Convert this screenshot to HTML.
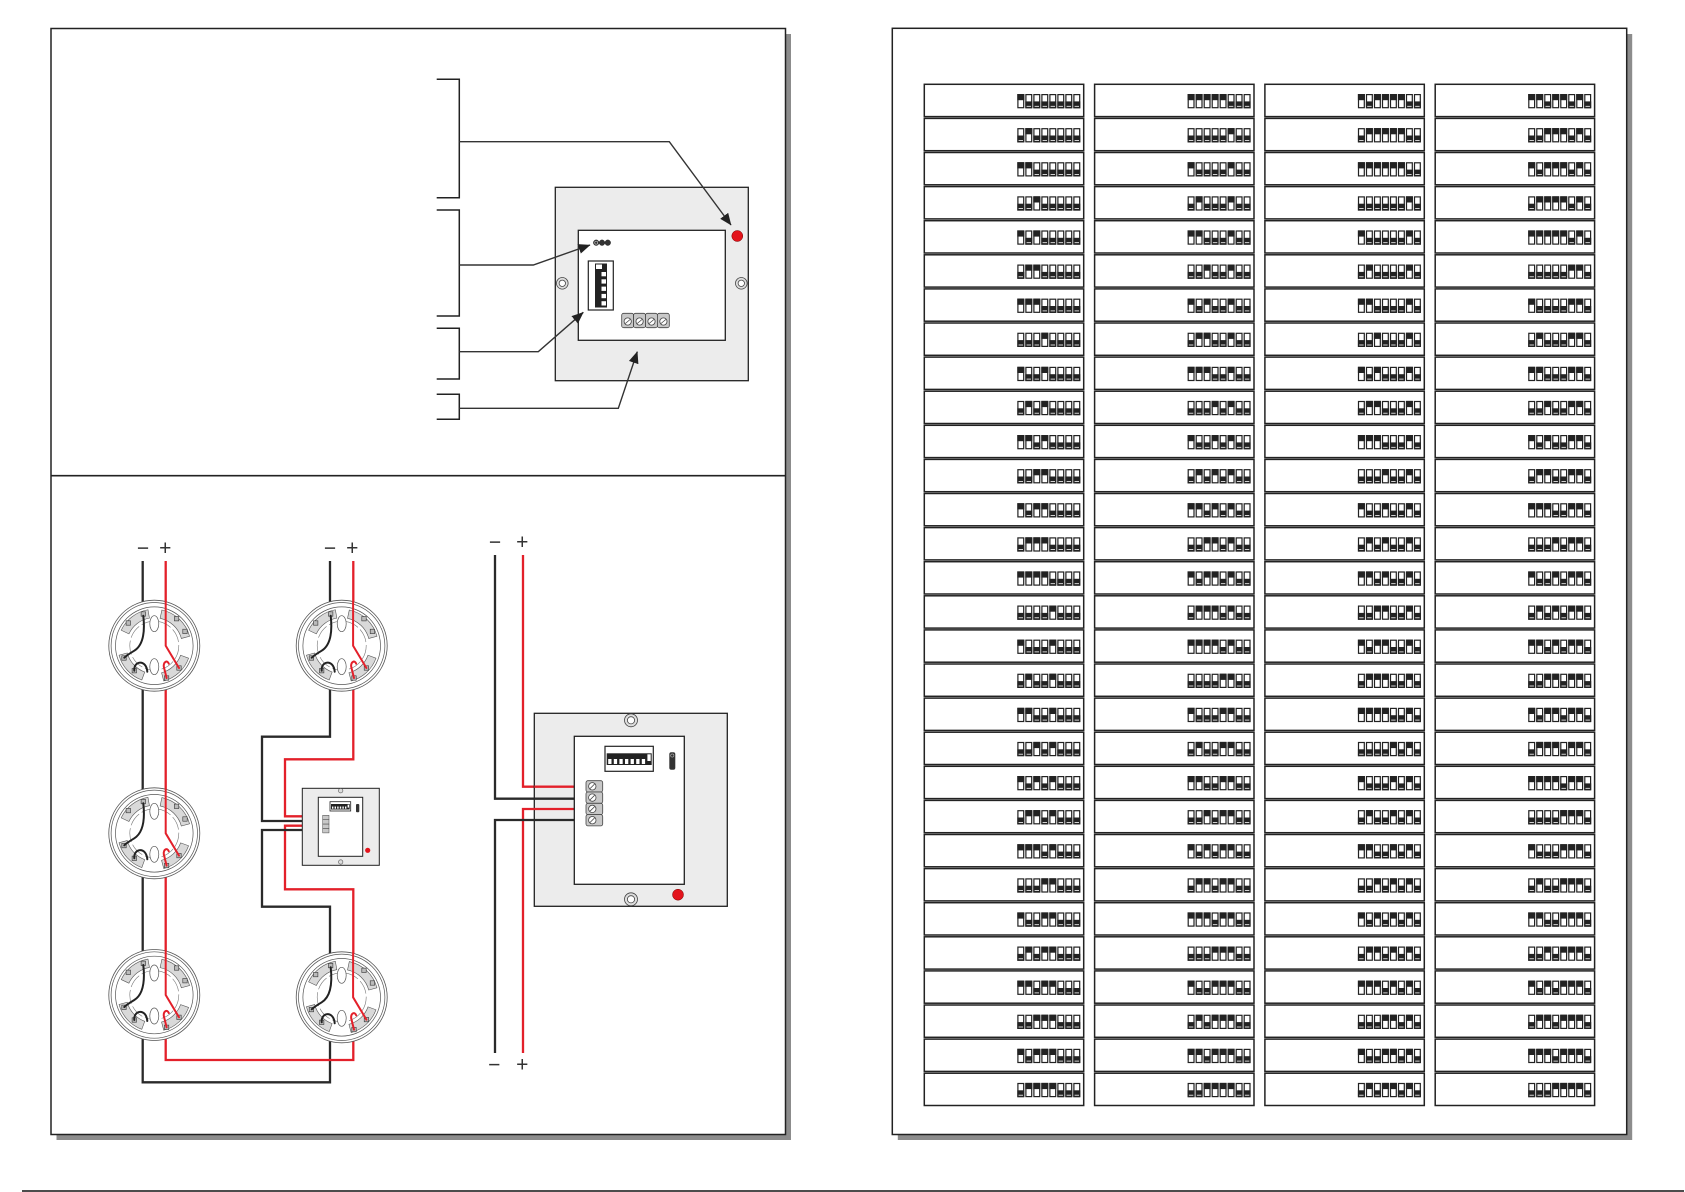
<!DOCTYPE html>
<html>
<head>
<meta charset="utf-8">
<style>
html,body{margin:0;padding:0;background:#fff}
svg{display:block}
</style>
</head>
<body>
<svg width="1685" height="1192" viewBox="0 0 1685 1192" xmlns="http://www.w3.org/2000/svg">
<defs>
  <marker id="ar" viewBox="0 0 12 10" refX="11.5" refY="5" markerWidth="12" markerHeight="10" markerUnits="userSpaceOnUse" orient="auto">
    <path d="M0,0 L12,5 L0,10 z" fill="#222"/>
  </marker>
  <g id="s1"><rect x="0.6" y="0.6" width="5.8" height="13.1" fill="#fff" stroke="#222" stroke-width="1.2"/><rect x="0" y="0" width="7" height="6.2" fill="#222"/></g>
  <g id="s0"><rect x="0.6" y="0.6" width="5.8" height="13.1" fill="#fff" stroke="#222" stroke-width="1.2"/><rect x="0" y="7.4" width="7" height="6.9" fill="#222"/><rect x="1.3" y="11.9" width="4.4" height="0.8" fill="#fff"/></g>
  <g id="n0"><use href="#s0" y="9.7"/><use href="#s0" x="8" y="9.7"/><use href="#s0" x="16" y="9.7"/><use href="#s0" x="24" y="9.7"/></g>
  <g id="n1"><use href="#s1" y="9.7"/><use href="#s0" x="8" y="9.7"/><use href="#s0" x="16" y="9.7"/><use href="#s0" x="24" y="9.7"/></g>
  <g id="n2"><use href="#s0" y="9.7"/><use href="#s1" x="8" y="9.7"/><use href="#s0" x="16" y="9.7"/><use href="#s0" x="24" y="9.7"/></g>
  <g id="n3"><use href="#s1" y="9.7"/><use href="#s1" x="8" y="9.7"/><use href="#s0" x="16" y="9.7"/><use href="#s0" x="24" y="9.7"/></g>
  <g id="n4"><use href="#s0" y="9.7"/><use href="#s0" x="8" y="9.7"/><use href="#s1" x="16" y="9.7"/><use href="#s0" x="24" y="9.7"/></g>
  <g id="n5"><use href="#s1" y="9.7"/><use href="#s0" x="8" y="9.7"/><use href="#s1" x="16" y="9.7"/><use href="#s0" x="24" y="9.7"/></g>
  <g id="n6"><use href="#s0" y="9.7"/><use href="#s1" x="8" y="9.7"/><use href="#s1" x="16" y="9.7"/><use href="#s0" x="24" y="9.7"/></g>
  <g id="n7"><use href="#s1" y="9.7"/><use href="#s1" x="8" y="9.7"/><use href="#s1" x="16" y="9.7"/><use href="#s0" x="24" y="9.7"/></g>
  <g id="n8"><use href="#s0" y="9.7"/><use href="#s0" x="8" y="9.7"/><use href="#s0" x="16" y="9.7"/><use href="#s1" x="24" y="9.7"/></g>
  <g id="n9"><use href="#s1" y="9.7"/><use href="#s0" x="8" y="9.7"/><use href="#s0" x="16" y="9.7"/><use href="#s1" x="24" y="9.7"/></g>
  <g id="n10"><use href="#s0" y="9.7"/><use href="#s1" x="8" y="9.7"/><use href="#s0" x="16" y="9.7"/><use href="#s1" x="24" y="9.7"/></g>
  <g id="n11"><use href="#s1" y="9.7"/><use href="#s1" x="8" y="9.7"/><use href="#s0" x="16" y="9.7"/><use href="#s1" x="24" y="9.7"/></g>
  <g id="n12"><use href="#s0" y="9.7"/><use href="#s0" x="8" y="9.7"/><use href="#s1" x="16" y="9.7"/><use href="#s1" x="24" y="9.7"/></g>
  <g id="n13"><use href="#s1" y="9.7"/><use href="#s0" x="8" y="9.7"/><use href="#s1" x="16" y="9.7"/><use href="#s1" x="24" y="9.7"/></g>
  <g id="n14"><use href="#s0" y="9.7"/><use href="#s1" x="8" y="9.7"/><use href="#s1" x="16" y="9.7"/><use href="#s1" x="24" y="9.7"/></g>
  <g id="n15"><use href="#s1" y="9.7"/><use href="#s1" x="8" y="9.7"/><use href="#s1" x="16" y="9.7"/><use href="#s1" x="24" y="9.7"/></g>

  <g id="col" fill="#fff" stroke="#222" stroke-width="1.5">
    <rect x="0" y="84.3" width="159.4" height="32.3"/>
    <rect x="0" y="118.4" width="159.4" height="32.3"/>
    <rect x="0" y="152.5" width="159.4" height="32.3"/>
    <rect x="0" y="186.6" width="159.4" height="32.3"/>
    <rect x="0" y="220.7" width="159.4" height="32.3"/>
    <rect x="0" y="254.8" width="159.4" height="32.3"/>
    <rect x="0" y="288.9" width="159.4" height="32.3"/>
    <rect x="0" y="323.0" width="159.4" height="32.3"/>
    <rect x="0" y="357.1" width="159.4" height="32.3"/>
    <rect x="0" y="391.2" width="159.4" height="32.3"/>
    <rect x="0" y="425.3" width="159.4" height="32.3"/>
    <rect x="0" y="459.4" width="159.4" height="32.3"/>
    <rect x="0" y="493.5" width="159.4" height="32.3"/>
    <rect x="0" y="527.6" width="159.4" height="32.3"/>
    <rect x="0" y="561.7" width="159.4" height="32.3"/>
    <rect x="0" y="595.8" width="159.4" height="32.3"/>
    <rect x="0" y="629.9" width="159.4" height="32.3"/>
    <rect x="0" y="664.0" width="159.4" height="32.3"/>
    <rect x="0" y="698.1" width="159.4" height="32.3"/>
    <rect x="0" y="732.2" width="159.4" height="32.3"/>
    <rect x="0" y="766.3" width="159.4" height="32.3"/>
    <rect x="0" y="800.4" width="159.4" height="32.3"/>
    <rect x="0" y="834.5" width="159.4" height="32.3"/>
    <rect x="0" y="868.6" width="159.4" height="32.3"/>
    <rect x="0" y="902.7" width="159.4" height="32.3"/>
    <rect x="0" y="936.8" width="159.4" height="32.3"/>
    <rect x="0" y="970.9" width="159.4" height="32.3"/>
    <rect x="0" y="1005.0" width="159.4" height="32.3"/>
    <rect x="0" y="1039.1" width="159.4" height="32.3"/>
    <rect x="0" y="1073.2" width="159.4" height="32.3"/>
  </g>

  <g id="det">
    <circle r="45.5" fill="#fff" stroke="#555" stroke-width="0.8"/>
    <circle r="43.2" fill="none" stroke="#555" stroke-width="0.7"/>
    <circle r="38.8" fill="none" stroke="#555" stroke-width="0.7"/>
    <g fill="#d9d9d9" stroke="#555" stroke-width="0.6">
      <path d="M-33.08,-15.42 A36.5,36.5 0 0 1 -6.34,-35.95 L-4.86,-27.57 A28,28 0 0 0 -25.38,-11.83 Z"/>
      <path d="M7.59,-35.70 A36.5,36.5 0 0 1 35.26,-9.45 L27.05,-7.25 A28,28 0 0 0 5.82,-27.39 Z"/>
      <path d="M34.30,12.48 A36.5,36.5 0 0 1 9.45,35.26 L7.25,27.05 A28,28 0 0 0 26.31,9.58 Z"/>
      <path d="M-12.48,34.30 A36.5,36.5 0 0 1 -35.26,9.45 L-27.05,7.25 A28,28 0 0 0 -9.58,26.31 Z"/>
    </g>
    <circle r="24.5" fill="none" stroke="#777" stroke-width="0.6" stroke-dasharray="14 3"/>
    <ellipse cx="0" cy="-22" rx="4.5" ry="8" fill="#fff" stroke="#555" stroke-width="0.7"/>
    <ellipse cx="0" cy="21" rx="4.5" ry="8" fill="#fff" stroke="#555" stroke-width="0.7"/>
    <g fill="#bbb" stroke="#333" stroke-width="0.6">
      <rect x="-28.2" y="-24.9" width="4.4" height="4.4"/>
      <rect x="-13.2" y="-33.9" width="4.4" height="4.4"/>
      <rect x="20.1" y="-29.2" width="4.4" height="4.4"/>
      <rect x="28.5" y="-16.5" width="4.4" height="4.4"/>
      <rect x="-32.5" y="10.1" width="4.4" height="4.4"/>
      <rect x="-22.2" y="22.8" width="4.4" height="4.4"/>
      <rect x="10.1" y="30.1" width="4.4" height="4.4"/>
      <rect x="22.5" y="20.1" width="4.4" height="4.4"/>
    </g>
    <g fill="none" stroke-width="2" stroke-linecap="round">
      <path d="M-11,-30 C-9,-12 -12,0 -20,5 C-25,8 -28,10 -30,12" stroke="#222"/>
      <path d="M-20,25 C-21,15 -8,13 -7,26" stroke="#222"/>
      <path d="M11.4,-44 V0 L24.7,22.3" stroke="#e3202a"/>
      <path d="M12.3,32.3 L9.5,21 C9,16 13,14 14.5,18" stroke="#e3202a"/>
    </g>
  </g>
</defs>

<rect x="56.5" y="34" width="734.5" height="1106" fill="#8c8c8c"/>
<rect x="897.8" y="34" width="734.4" height="1106" fill="#8c8c8c"/>
<rect x="51" y="28.5" width="734.5" height="1106" fill="#fff" stroke="#222" stroke-width="1.5"/>
<rect x="892.3" y="28.3" width="734.4" height="1106.2" fill="#fff" stroke="#222" stroke-width="1.5"/>
<line x1="51" y1="475.7" x2="785.5" y2="475.7" stroke="#222" stroke-width="1.7"/>
<line x1="22" y1="1191" x2="1684" y2="1191" stroke="#111" stroke-width="1.5"/>

<g fill="none" stroke="#222" stroke-width="1.5">
  <path d="M436.7,79.3 H459.3 V197.7 H436.7"/>
  <path d="M436.7,210 H459.3 V316 H436.7"/>
  <path d="M436.7,328.3 H459.3 V379 H436.7"/>
  <path d="M436.7,394.3 H459.3 V419.3 H436.7"/>
</g>
<rect x="555.3" y="187.3" width="193" height="193.4" fill="#ececec" stroke="#222" stroke-width="1.3"/>
<rect x="578.3" y="230.3" width="147" height="110" fill="#fff" stroke="#222" stroke-width="1.3"/>
<circle cx="737.3" cy="236" r="5.5" fill="#e3141c" stroke="#700" stroke-width="0.5"/>
<g stroke="#444" stroke-width="0.8">
  <circle cx="562.3" cy="283.3" r="5.8" fill="#ddd"/><circle cx="562.3" cy="283.3" r="3.2" fill="#fff"/>
  <circle cx="741.3" cy="283.3" r="5.8" fill="#ddd"/><circle cx="741.3" cy="283.3" r="3.2" fill="#fff"/>
</g>
<g fill="#333" stroke="#222" stroke-width="0.5">
  <circle cx="596.2" cy="242.7" r="2.8"/>
  <circle cx="602" cy="242.7" r="2.8"/>
  <circle cx="607.8" cy="242.7" r="2.8"/>
</g>
<circle cx="596.2" cy="242.7" r="1.5" fill="none" stroke="#bbb" stroke-width="0.7"/>
<rect x="588.3" y="261" width="25" height="49" fill="#fff" stroke="#222" stroke-width="1.2"/>
<rect x="595" y="263.5" width="12" height="44" fill="#222"/>
<g fill="#fff">
  <rect x="596" y="264.5" width="6" height="4.5"/>
  <rect x="601.5" y="272" width="4.5" height="4.3"/>
  <rect x="601.5" y="279.3" width="4.5" height="4.3"/>
  <rect x="601.5" y="286.6" width="4.5" height="4.3"/>
  <rect x="601.5" y="293.9" width="4.5" height="4.3"/>
  <rect x="601.5" y="301.2" width="4.5" height="4.3"/>
</g>
<g stroke="#444" stroke-width="0.8">
  <rect x="621.7" y="313.3" width="11.9" height="14.4" rx="2" fill="#c8c8c8"/>
  <rect x="633.6" y="313.3" width="11.9" height="14.4" rx="2" fill="#c8c8c8"/>
  <rect x="645.5" y="313.3" width="11.9" height="14.4" rx="2" fill="#c8c8c8"/>
  <rect x="657.4" y="313.3" width="11.9" height="14.4" rx="2" fill="#c8c8c8"/>
  <circle cx="627.7" cy="321.5" r="3.6" fill="#fff"/>
  <circle cx="639.6" cy="321.5" r="3.6" fill="#fff"/>
  <circle cx="651.5" cy="321.5" r="3.6" fill="#fff"/>
  <circle cx="663.4" cy="321.5" r="3.6" fill="#fff"/>
  <path d="M625.3,323.5 L630.1,319.5 M637.2,323.5 L642,319.5 M649.1,323.5 L653.9,319.5 M661,323.5 L665.8,319.5" fill="none"/>
</g>
<g fill="none" stroke="#333" stroke-width="1.4" marker-end="url(#ar)">
  <path d="M459.3,141.7 H669.3 L731,225"/>
  <path d="M459.3,265 H533.3 L590,245"/>
  <path d="M459.3,351.7 H538.3 L583.3,312.3"/>
  <path d="M459.3,408.3 H618.3 L637.3,351.7"/>
</g>

<g fill="none" stroke-width="2.3" stroke-linejoin="miter">
  <path d="M142.7,561 V1082.3 H330 V997" stroke="#2a2a2a"/>
  <path d="M165.7,561 V1060 H353.3 V997" stroke="#e3202a"/>
  <path d="M330,561 V736.7 H262 V821 H317" stroke="#2a2a2a"/>
  <path d="M353.3,561 V759.3 H285 V816.3 H317" stroke="#e3202a"/>
  <path d="M317,825.7 H285 V889.3 H353.3 V997" stroke="#e3202a"/>
  <path d="M317,830 H262 V906.7 H330 V997" stroke="#2a2a2a"/>
</g>
<use href="#det" x="154.3" y="645.7"/>
<use href="#det" x="341.7" y="645.7"/>
<use href="#det" x="154.3" y="833.3"/>
<use href="#det" x="154.3" y="995"/>
<use href="#det" x="341.7" y="997.3"/>

<rect x="302.3" y="788.3" width="77" height="77" fill="#ececec" stroke="#222" stroke-width="1"/>
<rect x="318.3" y="797.3" width="44.4" height="59" fill="#fff" stroke="#222" stroke-width="1"/>
<rect x="330" y="801.7" width="20.7" height="9.3" fill="#fff" stroke="#222" stroke-width="0.8"/>
<rect x="331" y="804" width="18.7" height="5.5" fill="#222"/>
<g fill="#fff"><rect x="332" y="806.5" width="1.4" height="2.2"/><rect x="334.6" y="806.5" width="1.4" height="2.2"/><rect x="337.2" y="806.5" width="1.4" height="2.2"/><rect x="339.8" y="806.5" width="1.4" height="2.2"/><rect x="342.4" y="806.5" width="1.4" height="2.2"/><rect x="345" y="806.5" width="1.4" height="2.2"/><rect x="347.6" y="804.6" width="1.4" height="3"/></g>
<rect x="356" y="804" width="3.3" height="8.3" rx="1" fill="#333"/>
<circle cx="367.7" cy="850.3" r="2.6" fill="#e3141c"/>
<g stroke="#555" stroke-width="0.6" fill="#ddd"><circle cx="340.7" cy="790.7" r="2.2"/><circle cx="340.7" cy="862" r="2.2"/></g>
<g fill="#c8c8c8" stroke="#444" stroke-width="0.5">
  <rect x="322.7" y="815.3" width="6.3" height="4.4"/><rect x="322.7" y="819.7" width="6.3" height="4.4"/><rect x="322.7" y="824.1" width="6.3" height="4.4"/><rect x="322.7" y="828.5" width="6.3" height="4.4"/>
</g>

<g fill="none" stroke-width="2.3">
  <path d="M495,555 V798.7 H574.3" stroke="#2a2a2a"/>
  <path d="M523,555 V786.7 H574.3" stroke="#e3202a"/>
</g>
<rect x="534.3" y="713.3" width="193" height="193" fill="#ececec" stroke="#222" stroke-width="1.3"/>
<g fill="none" stroke-width="2.3">
  <path d="M534.3,798.7 H574.3" stroke="#2a2a2a"/>
  <path d="M534.3,786.7 H574.3" stroke="#e3202a"/>
  <path d="M574.3,809 H523 V1053" stroke="#e3202a"/>
  <path d="M574.3,820 H495 V1053" stroke="#2a2a2a"/>
</g>
<rect x="574.3" y="736.3" width="110" height="148" fill="#fff" stroke="#222" stroke-width="1.3"/>
<g stroke="#444" stroke-width="0.8">
  <circle cx="631" cy="720.3" r="6.5" fill="#ddd"/><circle cx="631" cy="720.3" r="3.6" fill="#fff"/>
  <circle cx="631" cy="899.3" r="6.5" fill="#ddd"/><circle cx="631" cy="899.3" r="3.6" fill="#fff"/>
</g>
<circle cx="678" cy="894.7" r="5.5" fill="#e3141c" stroke="#700" stroke-width="0.5"/>
<rect x="605" y="746.3" width="48.3" height="25" fill="#fff" stroke="#222" stroke-width="1.2"/>
<rect x="606.7" y="753.3" width="45" height="11.7" fill="#222"/>
<g fill="#fff">
  <rect x="608.2" y="759" width="3.3" height="5"/><rect x="613.8" y="759" width="3.3" height="5"/><rect x="619.4" y="759" width="3.3" height="5"/><rect x="625" y="759" width="3.3" height="5"/><rect x="630.6" y="759" width="3.3" height="5"/><rect x="636.2" y="759" width="3.3" height="5"/><rect x="641.8" y="759" width="3.3" height="5"/><rect x="647.4" y="754.3" width="3.3" height="6.7"/>
</g>
<rect x="669.3" y="752.3" width="6" height="17.4" rx="2" fill="#333"/>
<circle cx="672.3" cy="755.5" r="1.6" fill="none" stroke="#bbb" stroke-width="0.6"/>
<g stroke="#444" stroke-width="0.8">
  <rect x="586" y="780.7" width="16.7" height="11.3" rx="2" fill="#c8c8c8"/>
  <rect x="586" y="792" width="16.7" height="11.3" rx="2" fill="#c8c8c8"/>
  <rect x="586" y="803.3" width="16.7" height="11.3" rx="2" fill="#c8c8c8"/>
  <rect x="586" y="814.6" width="16.7" height="11.3" rx="2" fill="#c8c8c8"/>
  <circle cx="592.3" cy="786.3" r="3.7" fill="#fff"/>
  <circle cx="592.3" cy="797.6" r="3.7" fill="#fff"/>
  <circle cx="592.3" cy="808.9" r="3.7" fill="#fff"/>
  <circle cx="592.3" cy="820.2" r="3.7" fill="#fff"/>
  <path d="M590,788.6 L594.6,784 M590,799.9 L594.6,795.3 M590,811.2 L594.6,806.6 M590,822.5 L594.6,817.9" fill="none"/>
</g>

<g font-family="'Liberation Sans', 'DejaVu Sans', sans-serif" font-size="21" fill="#333" text-anchor="middle">
  <text x="143" y="555">−</text><text x="165.3" y="555">+</text>
  <text x="330" y="555">−</text><text x="352.3" y="555">+</text>
  <text x="495" y="549">−</text><text x="522.3" y="549">+</text>
  <text x="494.3" y="1071.3">−</text><text x="522.3" y="1071.3">+</text>
</g>

<use href="#col" x="924.3"/>
<use href="#col" x="1094.6"/>
<use href="#col" x="1264.9"/>
<use href="#col" x="1435.2"/>

<g transform="translate(924.3,0)">
<use href="#n1" x="93" y="84.3"/><use href="#n0" x="125" y="84.3"/>
<use href="#n2" x="93" y="118.4"/><use href="#n0" x="125" y="118.4"/>
<use href="#n3" x="93" y="152.5"/><use href="#n0" x="125" y="152.5"/>
<use href="#n4" x="93" y="186.6"/><use href="#n0" x="125" y="186.6"/>
<use href="#n5" x="93" y="220.7"/><use href="#n0" x="125" y="220.7"/>
<use href="#n6" x="93" y="254.8"/><use href="#n0" x="125" y="254.8"/>
<use href="#n7" x="93" y="288.9"/><use href="#n0" x="125" y="288.9"/>
<use href="#n8" x="93" y="323.0"/><use href="#n0" x="125" y="323.0"/>
<use href="#n9" x="93" y="357.1"/><use href="#n0" x="125" y="357.1"/>
<use href="#n10" x="93" y="391.2"/><use href="#n0" x="125" y="391.2"/>
<use href="#n11" x="93" y="425.3"/><use href="#n0" x="125" y="425.3"/>
<use href="#n12" x="93" y="459.4"/><use href="#n0" x="125" y="459.4"/>
<use href="#n13" x="93" y="493.5"/><use href="#n0" x="125" y="493.5"/>
<use href="#n14" x="93" y="527.6"/><use href="#n0" x="125" y="527.6"/>
<use href="#n15" x="93" y="561.7"/><use href="#n0" x="125" y="561.7"/>
<use href="#n0" x="93" y="595.8"/><use href="#n1" x="125" y="595.8"/>
<use href="#n1" x="93" y="629.9"/><use href="#n1" x="125" y="629.9"/>
<use href="#n2" x="93" y="664.0"/><use href="#n1" x="125" y="664.0"/>
<use href="#n3" x="93" y="698.1"/><use href="#n1" x="125" y="698.1"/>
<use href="#n4" x="93" y="732.2"/><use href="#n1" x="125" y="732.2"/>
<use href="#n5" x="93" y="766.3"/><use href="#n1" x="125" y="766.3"/>
<use href="#n6" x="93" y="800.4"/><use href="#n1" x="125" y="800.4"/>
<use href="#n7" x="93" y="834.5"/><use href="#n1" x="125" y="834.5"/>
<use href="#n8" x="93" y="868.6"/><use href="#n1" x="125" y="868.6"/>
<use href="#n9" x="93" y="902.7"/><use href="#n1" x="125" y="902.7"/>
<use href="#n10" x="93" y="936.8"/><use href="#n1" x="125" y="936.8"/>
<use href="#n11" x="93" y="970.9"/><use href="#n1" x="125" y="970.9"/>
<use href="#n12" x="93" y="1005.0"/><use href="#n1" x="125" y="1005.0"/>
<use href="#n13" x="93" y="1039.1"/><use href="#n1" x="125" y="1039.1"/>
<use href="#n14" x="93" y="1073.2"/><use href="#n1" x="125" y="1073.2"/>
</g>

<g transform="translate(1094.6,0)">
<use href="#n15" x="93" y="84.3"/><use href="#n1" x="125" y="84.3"/>
<use href="#n0" x="93" y="118.4"/><use href="#n2" x="125" y="118.4"/>
<use href="#n1" x="93" y="152.5"/><use href="#n2" x="125" y="152.5"/>
<use href="#n2" x="93" y="186.6"/><use href="#n2" x="125" y="186.6"/>
<use href="#n3" x="93" y="220.7"/><use href="#n2" x="125" y="220.7"/>
<use href="#n4" x="93" y="254.8"/><use href="#n2" x="125" y="254.8"/>
<use href="#n5" x="93" y="288.9"/><use href="#n2" x="125" y="288.9"/>
<use href="#n6" x="93" y="323.0"/><use href="#n2" x="125" y="323.0"/>
<use href="#n7" x="93" y="357.1"/><use href="#n2" x="125" y="357.1"/>
<use href="#n8" x="93" y="391.2"/><use href="#n2" x="125" y="391.2"/>
<use href="#n9" x="93" y="425.3"/><use href="#n2" x="125" y="425.3"/>
<use href="#n10" x="93" y="459.4"/><use href="#n2" x="125" y="459.4"/>
<use href="#n11" x="93" y="493.5"/><use href="#n2" x="125" y="493.5"/>
<use href="#n12" x="93" y="527.6"/><use href="#n2" x="125" y="527.6"/>
<use href="#n13" x="93" y="561.7"/><use href="#n2" x="125" y="561.7"/>
<use href="#n14" x="93" y="595.8"/><use href="#n2" x="125" y="595.8"/>
<use href="#n15" x="93" y="629.9"/><use href="#n2" x="125" y="629.9"/>
<use href="#n0" x="93" y="664.0"/><use href="#n3" x="125" y="664.0"/>
<use href="#n1" x="93" y="698.1"/><use href="#n3" x="125" y="698.1"/>
<use href="#n2" x="93" y="732.2"/><use href="#n3" x="125" y="732.2"/>
<use href="#n3" x="93" y="766.3"/><use href="#n3" x="125" y="766.3"/>
<use href="#n4" x="93" y="800.4"/><use href="#n3" x="125" y="800.4"/>
<use href="#n5" x="93" y="834.5"/><use href="#n3" x="125" y="834.5"/>
<use href="#n6" x="93" y="868.6"/><use href="#n3" x="125" y="868.6"/>
<use href="#n7" x="93" y="902.7"/><use href="#n3" x="125" y="902.7"/>
<use href="#n8" x="93" y="936.8"/><use href="#n3" x="125" y="936.8"/>
<use href="#n9" x="93" y="970.9"/><use href="#n3" x="125" y="970.9"/>
<use href="#n10" x="93" y="1005.0"/><use href="#n3" x="125" y="1005.0"/>
<use href="#n11" x="93" y="1039.1"/><use href="#n3" x="125" y="1039.1"/>
<use href="#n12" x="93" y="1073.2"/><use href="#n3" x="125" y="1073.2"/>
</g>

<g transform="translate(1264.9,0)">
<use href="#n13" x="93" y="84.3"/><use href="#n3" x="125" y="84.3"/>
<use href="#n14" x="93" y="118.4"/><use href="#n3" x="125" y="118.4"/>
<use href="#n15" x="93" y="152.5"/><use href="#n3" x="125" y="152.5"/>
<use href="#n0" x="93" y="186.6"/><use href="#n4" x="125" y="186.6"/>
<use href="#n1" x="93" y="220.7"/><use href="#n4" x="125" y="220.7"/>
<use href="#n2" x="93" y="254.8"/><use href="#n4" x="125" y="254.8"/>
<use href="#n3" x="93" y="288.9"/><use href="#n4" x="125" y="288.9"/>
<use href="#n4" x="93" y="323.0"/><use href="#n4" x="125" y="323.0"/>
<use href="#n5" x="93" y="357.1"/><use href="#n4" x="125" y="357.1"/>
<use href="#n6" x="93" y="391.2"/><use href="#n4" x="125" y="391.2"/>
<use href="#n7" x="93" y="425.3"/><use href="#n4" x="125" y="425.3"/>
<use href="#n8" x="93" y="459.4"/><use href="#n4" x="125" y="459.4"/>
<use href="#n9" x="93" y="493.5"/><use href="#n4" x="125" y="493.5"/>
<use href="#n10" x="93" y="527.6"/><use href="#n4" x="125" y="527.6"/>
<use href="#n11" x="93" y="561.7"/><use href="#n4" x="125" y="561.7"/>
<use href="#n12" x="93" y="595.8"/><use href="#n4" x="125" y="595.8"/>
<use href="#n13" x="93" y="629.9"/><use href="#n4" x="125" y="629.9"/>
<use href="#n14" x="93" y="664.0"/><use href="#n4" x="125" y="664.0"/>
<use href="#n15" x="93" y="698.1"/><use href="#n4" x="125" y="698.1"/>
<use href="#n0" x="93" y="732.2"/><use href="#n5" x="125" y="732.2"/>
<use href="#n1" x="93" y="766.3"/><use href="#n5" x="125" y="766.3"/>
<use href="#n2" x="93" y="800.4"/><use href="#n5" x="125" y="800.4"/>
<use href="#n3" x="93" y="834.5"/><use href="#n5" x="125" y="834.5"/>
<use href="#n4" x="93" y="868.6"/><use href="#n5" x="125" y="868.6"/>
<use href="#n5" x="93" y="902.7"/><use href="#n5" x="125" y="902.7"/>
<use href="#n6" x="93" y="936.8"/><use href="#n5" x="125" y="936.8"/>
<use href="#n7" x="93" y="970.9"/><use href="#n5" x="125" y="970.9"/>
<use href="#n8" x="93" y="1005.0"/><use href="#n5" x="125" y="1005.0"/>
<use href="#n9" x="93" y="1039.1"/><use href="#n5" x="125" y="1039.1"/>
<use href="#n10" x="93" y="1073.2"/><use href="#n5" x="125" y="1073.2"/>
</g>

<g transform="translate(1435.2,0)">
<use href="#n11" x="93" y="84.3"/><use href="#n5" x="125" y="84.3"/>
<use href="#n12" x="93" y="118.4"/><use href="#n5" x="125" y="118.4"/>
<use href="#n13" x="93" y="152.5"/><use href="#n5" x="125" y="152.5"/>
<use href="#n14" x="93" y="186.6"/><use href="#n5" x="125" y="186.6"/>
<use href="#n15" x="93" y="220.7"/><use href="#n5" x="125" y="220.7"/>
<use href="#n0" x="93" y="254.8"/><use href="#n6" x="125" y="254.8"/>
<use href="#n1" x="93" y="288.9"/><use href="#n6" x="125" y="288.9"/>
<use href="#n2" x="93" y="323.0"/><use href="#n6" x="125" y="323.0"/>
<use href="#n3" x="93" y="357.1"/><use href="#n6" x="125" y="357.1"/>
<use href="#n4" x="93" y="391.2"/><use href="#n6" x="125" y="391.2"/>
<use href="#n5" x="93" y="425.3"/><use href="#n6" x="125" y="425.3"/>
<use href="#n6" x="93" y="459.4"/><use href="#n6" x="125" y="459.4"/>
<use href="#n7" x="93" y="493.5"/><use href="#n6" x="125" y="493.5"/>
<use href="#n8" x="93" y="527.6"/><use href="#n6" x="125" y="527.6"/>
<use href="#n9" x="93" y="561.7"/><use href="#n6" x="125" y="561.7"/>
<use href="#n10" x="93" y="595.8"/><use href="#n6" x="125" y="595.8"/>
<use href="#n11" x="93" y="629.9"/><use href="#n6" x="125" y="629.9"/>
<use href="#n12" x="93" y="664.0"/><use href="#n6" x="125" y="664.0"/>
<use href="#n13" x="93" y="698.1"/><use href="#n6" x="125" y="698.1"/>
<use href="#n14" x="93" y="732.2"/><use href="#n6" x="125" y="732.2"/>
<use href="#n15" x="93" y="766.3"/><use href="#n6" x="125" y="766.3"/>
<use href="#n0" x="93" y="800.4"/><use href="#n7" x="125" y="800.4"/>
<use href="#n1" x="93" y="834.5"/><use href="#n7" x="125" y="834.5"/>
<use href="#n2" x="93" y="868.6"/><use href="#n7" x="125" y="868.6"/>
<use href="#n3" x="93" y="902.7"/><use href="#n7" x="125" y="902.7"/>
<use href="#n4" x="93" y="936.8"/><use href="#n7" x="125" y="936.8"/>
<use href="#n5" x="93" y="970.9"/><use href="#n7" x="125" y="970.9"/>
<use href="#n6" x="93" y="1005.0"/><use href="#n7" x="125" y="1005.0"/>
<use href="#n7" x="93" y="1039.1"/><use href="#n7" x="125" y="1039.1"/>
<use href="#n8" x="93" y="1073.2"/><use href="#n7" x="125" y="1073.2"/>
</g>
</svg>
</body>
</html>
